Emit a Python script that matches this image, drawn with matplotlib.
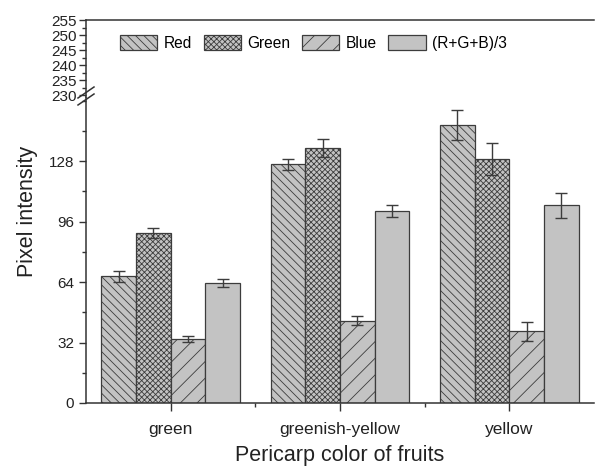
import numpy as np
import matplotlib
matplotlib.use("Agg")
import matplotlib.pyplot as plt
from matplotlib.lines import Line2D
from matplotlib.ticker import MultipleLocator, FixedLocator

plt.rcParams['font.family'] = ['Liberation Sans', 'DejaVu Sans']
plt.rcParams['hatch.linewidth'] = 0.6

# data
groups = ["green", "greenish-yellow", "yellow"]
series = ["Red", "Green", "Blue", "(R+G+B)/3"]
red = [67.2, 126.3, 147.1]
green = [90.1, 135.1, 129.1]
blue = [33.9, 43.6, 37.9]
avg = [63.5, 101.6, 104.8]
red_err = [2.9, 2.7, 8.1]
green_err = [2.8, 4.6, 8.5]
blue_err = [1.7, 2.5, 5.2]
avg_err = [2.2, 3.2, 6.6]

values = [red, green, blue, avg]
errors = [red_err, green_err, blue_err, avg_err]
hatches = ["\\\\\\\\", "xxxxxx", "//", ""]

W, H = 595, 468
fig = plt.figure(figsize=(W / 100, H / 100), dpi=100)

left, right = 86 / W, 594 / W
y0, ybrk, ytop = 1 - 403 / H, 1 - 97 / H, 1 - 20 / H
ax = fig.add_axes([left, y0, right - left, ybrk - y0])
axu = fig.add_axes([left, ybrk, right - left, ytop - ybrk], sharex=ax)

x = np.arange(len(groups))
w = 0.205
fill = "#c3c3c3"
edge = "#3c3c3c"
for i, (vals, errs, h, name) in enumerate(zip(values, errors, hatches, series)):
    pos = x + (i - 1.5) * w
    ax.bar(pos, vals, w, color=fill, edgecolor=edge, hatch=h, linewidth=0.9, label=name)
    ax.errorbar(pos, vals, yerr=errs, fmt="none", ecolor=edge, elinewidth=1.0,
                capsize=4, capthick=1.0)
    axu.bar(pos, vals, w, color=fill, edgecolor=edge, hatch=h, linewidth=0.9, label=name)

ax.set_xlim(-0.5, 2.5)
ax.set_ylim(0, 162)
axu.set_ylim(229.4, 255)

for a in (ax, axu):
    a.spines['right'].set_visible(False)
    for s in a.spines.values():
        s.set_color("#333333")
        s.set_linewidth(1.1)
ax.spines['top'].set_visible(False)
axu.spines['bottom'].set_visible(False)

ax.set_xticks(x)
ax.set_xticklabels(groups, fontsize=12.5)
ax.xaxis.set_minor_locator(FixedLocator([0.5, 1.5]))
ax.tick_params(axis='x', which='major', direction='out', length=6, width=1, pad=8, colors="#333333")
ax.tick_params(axis='x', which='minor', direction='out', length=3, width=1, colors="#333333")

ax.set_yticks([0, 32, 64, 96, 128])
ax.yaxis.set_minor_locator(MultipleLocator(16))
ax.tick_params(axis='y', which='major', direction='out', length=5, width=1, labelsize=11, colors="#333333")
ax.tick_params(axis='y', which='minor', direction='out', length=3, width=1, colors="#333333")

axu.set_yticks([230, 235, 240, 245, 250, 255])
axu.yaxis.set_minor_locator(MultipleLocator(2.5))
axu.tick_params(axis='y', which='major', direction='out', length=5, width=1, labelsize=11, pad=2, colors="#333333")
axu.tick_params(axis='y', which='minor', direction='out', length=3, width=1, colors="#333333")
axu.tick_params(axis='x', which='both', bottom=False, labelbottom=False, top=False)
for t in ax.get_yticklabels() + axu.get_yticklabels() + ax.get_xticklabels():
    t.set_color("#222222")

# break marks on the y axis
for dy in (0, 7):
    fig.add_artist(Line2D([78 / W, 94 / W], [1 - (98 + dy) / H, 1 - (87 + dy) / H],
                          transform=fig.transFigure, color="#333333", lw=1.1))

fig.text(28 / W, 1 - 211 / H, "Pixel intensity", rotation=90, ha='center', va='center',
         fontsize=15.5, color="#222222")
fig.text(0.57, 1 - 456 / H, "Pericarp color of fruits", ha='center', va='center',
         fontsize=15.5, color="#222222")

axu.legend(loc='upper left', bbox_to_anchor=(0.055, 0.88), ncol=4, frameon=False,
           fontsize=11.2, handlelength=2.4, handleheight=1.1, columnspacing=0.75,
           handletextpad=0.4, borderaxespad=0)

fig.savefig("out.png", dpi=100)
